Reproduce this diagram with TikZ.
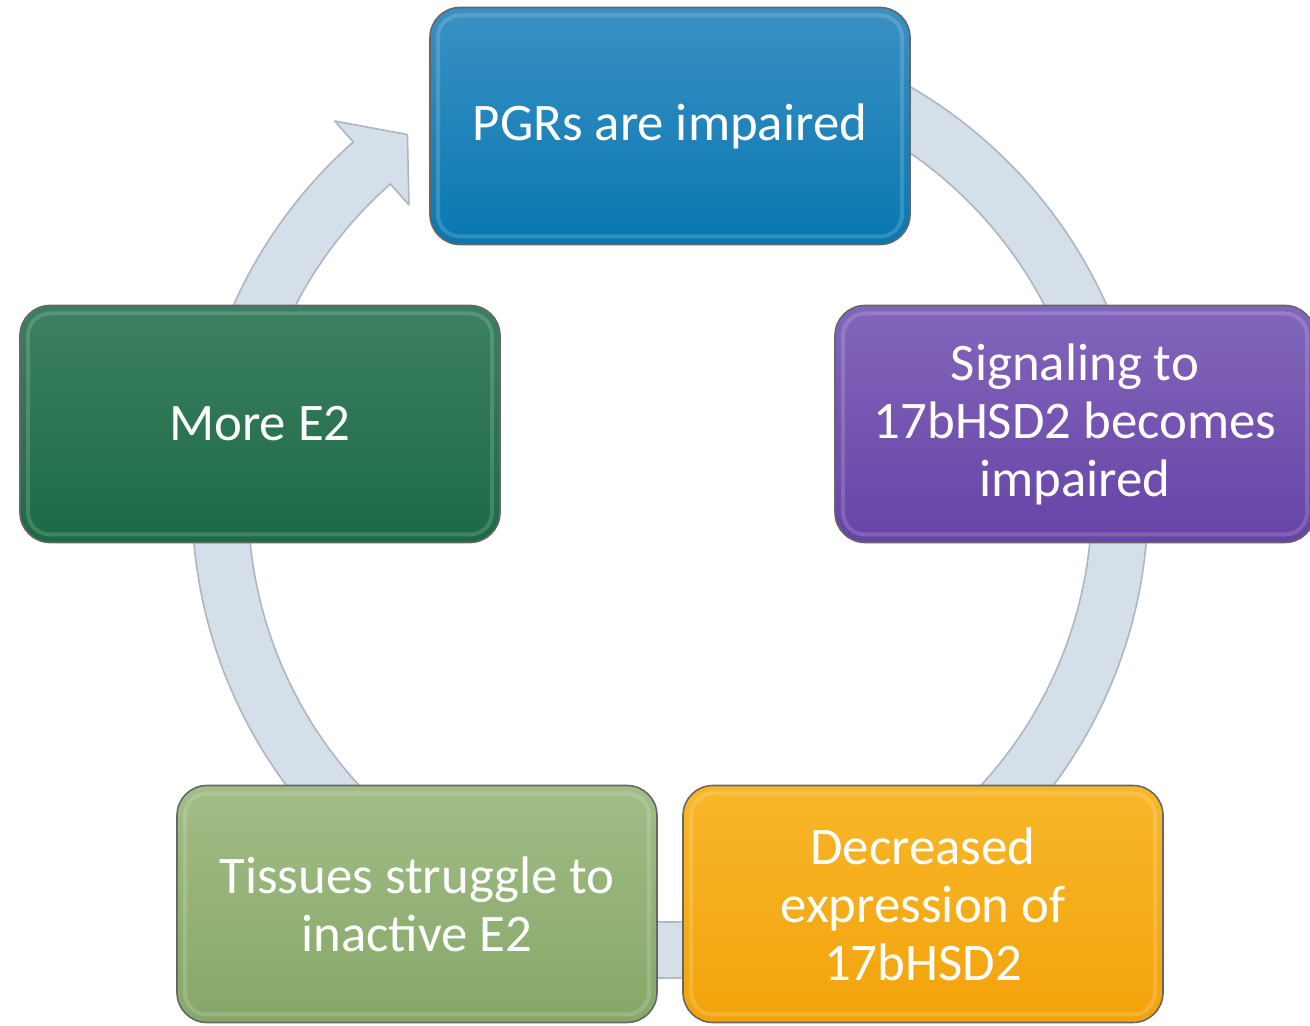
\documentclass[tikz,border=0pt]{standalone}
\usepackage{fontspec}
\setmainfont{Carlito}
\usepackage{xcolor}
\usepackage{tikz}
\usetikzlibrary{positioning}
\definecolor{pgrtop}{HTML}{3B90C3}
\definecolor{pgrbot}{HTML}{0878B1}
\definecolor{sigtop}{HTML}{8266BB}
\definecolor{sigbot}{HTML}{6743A6}
\definecolor{dectop}{HTML}{F8B72A}
\definecolor{decbot}{HTML}{F2A30B}
\definecolor{tistop}{HTML}{A2BD86}
\definecolor{tisbot}{HTML}{86A769}
\definecolor{moretop}{HTML}{3C8062}
\definecolor{morebot}{HTML}{1C6A45}
\definecolor{ringfill}{HTML}{D5DFEA}
\definecolor{ringedge}{HTML}{AEB6BF}

\begin{document}
\begin{tikzpicture}[
    x=0.5pt, y=0.5pt,
    box/.style={rectangle, rounded corners=15pt, draw=black!60, line width=0.8pt, align=center, text=white, font=\fontsize{26.4}{29}\selectfont, minimum width=240pt, minimum height=118.5pt, inner sep=4pt,
        path picture={\draw[white, opacity=0.16, line width=2pt, rounded corners=11pt] ([shift={(4pt,4pt)}]path picture bounding box.south west) rectangle ([shift={(-4pt,-4pt)}]path picture bounding box.north east);}},
    pgrbox/.style={box, top color=pgrtop, bottom color=pgrbot},
    sigbox/.style={box, top color=sigtop, bottom color=sigbot},
    decbox/.style={box, top color=dectop, bottom color=decbot},
    tisbox/.style={box, top color=tistop, bottom color=tisbot},
    morebox/.style={box, top color=moretop, bottom color=morebot},
    ringarrow/.style={fill=ringfill, draw=ringedge, line width=0.8pt, line join=round}
]
    \useasboundingbox[fill=white] (0,0) rectangle (1310,1026);

    % Cycle ring with its arrow head
    \coordinate (CEN) at (670,526);
    \draw[ringarrow, shift={(CEN)}] (100:478) arc[start angle=100, end angle=-228.5, radius=478]
        -- (-228.5:506) -- (-234.3:450) -- (-228.5:394) -- (-228.5:422)
        arc[start angle=-228.5, end angle=100, radius=422] -- cycle;

    % Steps of the cycle
    \node[pgrbox] (PGR) at (670, 900) {PGRs are impaired};
    \node[sigbox] (SIG) at (1075, 602) {Signaling to\\17bHSD2 becomes\\impaired};
    \node[decbox] (DEC) at (923, 122) {Decreased\\expression of\\17bHSD2};
    \node[tisbox] (TIS) at (417, 122) {Tissues struggle to\\inactive E2};
    \node[morebox] (MORE) at (260, 602) {More E2};
\end{tikzpicture}
\end{document}
